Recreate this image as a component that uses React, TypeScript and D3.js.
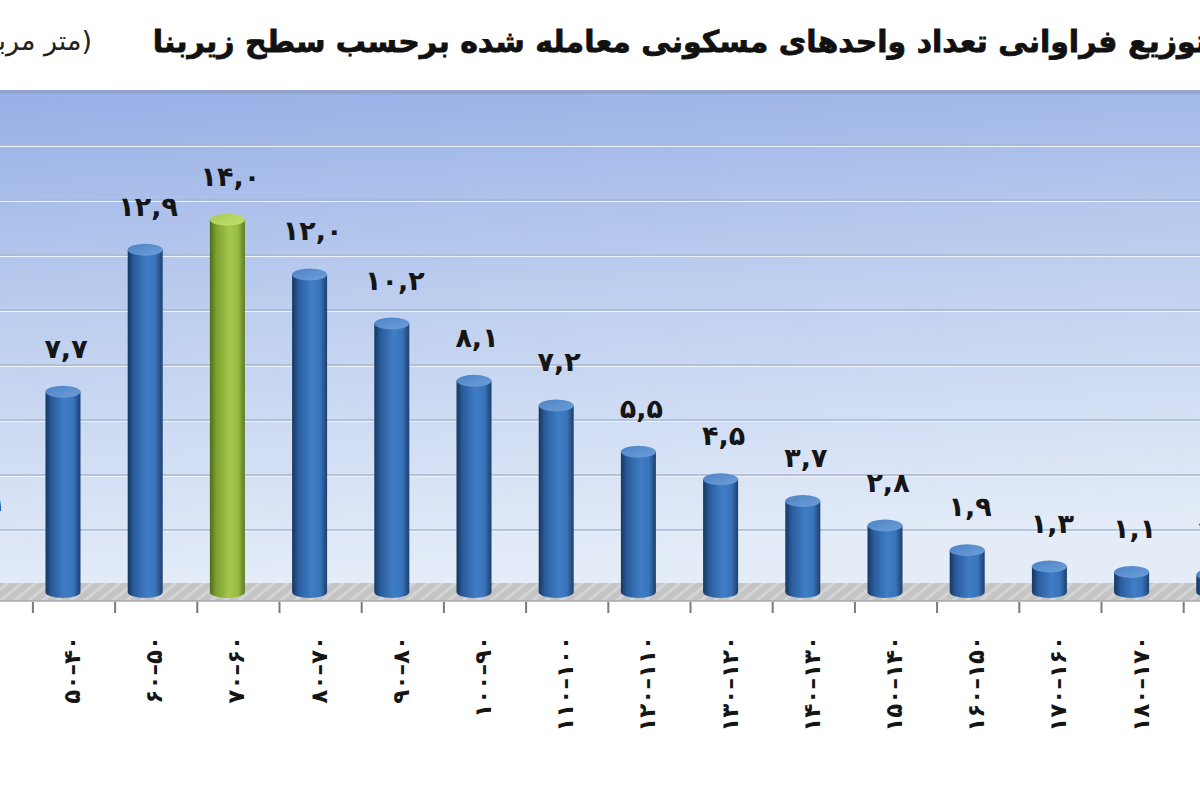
import React from "react";
import * as d3 from "d3";

const categories = [
  "۴۰–۳۰", "۵۰–۴۰", "۶۰–۵۰", "۷۰–۶۰", "۸۰–۷۰", "۹۰–۸۰", "۱۰۰–۹۰", "۱۱۰–۱۰۰",
  "۱۲۰–۱۱۰", "۱۳۰–۱۲۰", "۱۴۰–۱۳۰", "۱۵۰–۱۴۰", "۱۶۰–۱۵۰", "۱۷۰–۱۶۰", "۱۸۰–۱۷۰", "۱۹۰–۱۸۰",
];
const values = [2.1, 7.7, 12.9, 14.0, 12.0, 10.2, 8.1, 7.2, 5.5, 4.5, 3.7, 2.8, 1.9, 1.3, 1.1, 1.0];
const highlight = "۷۰–۶۰";
const gridTicks = [0, 2, 4, 6, 8, 10, 12, 14, 16, 18];
const title = "توزیع فراوانی تعداد واحدهای مسکونی معامله شده برحسب سطح زیربنا";
const unit = "(متر مربع)";

const faDigits = "۰۱۲۳۴۵۶۷۸۹";
const toFa = (v: number) =>
  v.toFixed(1).replace(/[0-9]/g, (d) => faDigits[+d]).replace(".", ",");

export default function App() {
  const W = 1200, H = 800;
  const step = 82.2;
  const x = d3.scaleBand<string>()
    .domain(categories)
    .range([-49.3, -49.3 + step * categories.length])
    .paddingInner(0).paddingOuter(0);
  const y = d3.scaleLinear().domain([0, 18]).range([596, 596 - 18 * 27.3]);
  const yWall = d3.scaleLinear().domain([0, 18]).range([585, 90]);
  const bw = 35, rx = bw / 2, ry = 6;
  const barOffset = -11;
  const bottomY = 592;
  const font = "'DejaVu Sans', sans-serif";

  return (
    <svg width={W} height={H} style={{ position: "absolute", left: 0, top: 0, background: "#fff" }}>
      <defs>
        <linearGradient id="wall" x1="0" y1="0" x2="0.15" y2="1">
          <stop offset="0" stopColor="#96afe6" />
          <stop offset="0.45" stopColor="#bccdee" />
          <stop offset="1" stopColor="#e4ecf8" />
        </linearGradient>
        <linearGradient id="blueBody" x1="0" y1="0" x2="1" y2="0">
          <stop offset="0" stopColor="#17365f" />
          <stop offset="0.18" stopColor="#2a5c9c" />
          <stop offset="0.55" stopColor="#3f7dc6" />
          <stop offset="0.8" stopColor="#3a74ba" />
          <stop offset="1" stopColor="#1c3f6e" />
        </linearGradient>
        <linearGradient id="blueTop" x1="0" y1="0" x2="1" y2="1">
          <stop offset="0" stopColor="#4d83c6" />
          <stop offset="1" stopColor="#6d9ed8" />
        </linearGradient>
        <linearGradient id="greenBody" x1="0" y1="0" x2="1" y2="0">
          <stop offset="0" stopColor="#4f6b1c" />
          <stop offset="0.18" stopColor="#7d9f30" />
          <stop offset="0.55" stopColor="#a4c74c" />
          <stop offset="0.8" stopColor="#98bc42" />
          <stop offset="1" stopColor="#5c7b22" />
        </linearGradient>
        <linearGradient id="greenTop" x1="0" y1="0" x2="1" y2="1">
          <stop offset="0" stopColor="#a8cb50" />
          <stop offset="1" stopColor="#c4de74" />
        </linearGradient>
        <pattern id="floorPat" width="14" height="16" patternUnits="userSpaceOnUse" patternTransform="skewX(-50)">
          <rect width="14" height="16" fill="#c4c4c4" />
          <rect width="5" height="16" fill="#d4d4d4" />
        </pattern>
      </defs>

      {/* back wall */}
      <rect x={0} y={yWall(18)} width={W} height={yWall(0) - yWall(18)} fill="url(#wall)" />
      <rect x={0} y={yWall(18)} width={W} height={4} fill="#8e9fc2" opacity={0.7} />
      {gridTicks.slice(1, -1).map((t) => (
        <g key={t}>
          <line x1={0} x2={W} y1={yWall(t)} y2={yWall(t)} stroke="#a9b8d3" strokeWidth={1.5} />
          <line x1={0} x2={W} y1={yWall(t) + 1.5} y2={yWall(t) + 1.5} stroke="#eef3fb" strokeWidth={1} />
        </g>
      ))}

      {/* floor */}
      <rect x={0} y={yWall(0) - 2} width={W} height={bottomY + 11 - yWall(0)} fill="url(#floorPat)" />
      <line x1={0} x2={W} y1={bottomY + 9} y2={bottomY + 9} stroke="#a8a8a8" strokeWidth={1.5} />

      {/* ticks */}
      {categories.map((c) => (
        <line key={"t" + c} x1={x(c)!} x2={x(c)!} y1={bottomY + 10} y2={bottomY + 21} stroke="#7a7a7a" strokeWidth={2} />
      ))}

      {/* bars */}
      {categories.map((c, i) => {
        const cx = x(c)! + x.bandwidth() / 2 + barOffset;
        const top = y(values[i]) + ry;
        const isG = c === highlight;
        const body = isG ? "url(#greenBody)" : "url(#blueBody)";
        const cap = isG ? "url(#greenTop)" : "url(#blueTop)";
        return (
          <g key={"b" + c}>
            <path
              d={`M${cx - rx},${top} L${cx - rx},${bottomY} A${rx},${ry} 0 0 0 ${cx + rx},${bottomY} L${cx + rx},${top} Z`}
              fill={body}
            />
            <ellipse cx={cx} cy={top} rx={rx} ry={ry} fill={cap} />
          </g>
        );
      })}

      {/* value labels */}
      {categories.map((c, i) => {
        const cx = x(c)! + x.bandwidth() / 2 + barOffset + 3;
        return (
          <text
            key={"v" + c}
            x={cx}
            y={y(values[i]) - 28}
            textAnchor="middle"
            fontFamily={font}
            fontWeight="bold"
            fontSize={27}
            letterSpacing={8}
            fill="#151515"
            direction="ltr"
          >
            {toFa(values[i])}
          </text>
        );
      })}

      {/* category labels */}
      {categories.map((c) => {
        const cx = x(c)! + x.bandwidth() / 2 - 2;
        return (
          <text
            key={"c" + c}
            transform={`translate(${cx},${636}) rotate(-90)`}
            textAnchor="end"
            dominantBaseline="central"
            fontFamily={font}
            fontWeight="bold"
            fontSize={23}
            letterSpacing={6}
            fill="#151515"
            direction="ltr"
          >
            {c}
          </text>
        );
      })}

      {/* title */}
      <text x={1207} y={52} textAnchor="end" fontFamily={font} fontWeight="bold" fontSize={30} fill="#111" stroke="#111" strokeWidth={0.8}>
        {title}
      </text>
      <text x={92} y={50} textAnchor="end" fontFamily={font} fontSize={27} fill="#222">
        {unit}
      </text>
    </svg>
  );
}
